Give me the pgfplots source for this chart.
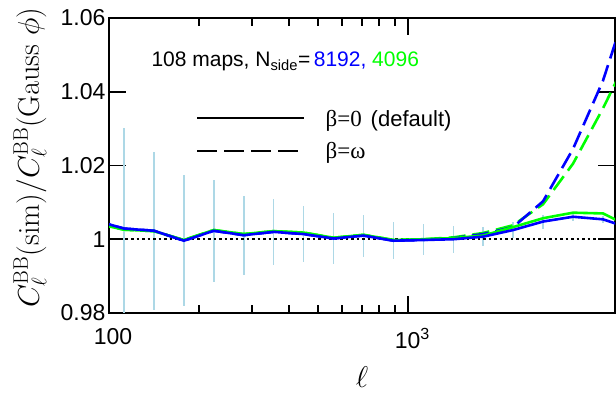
\RequirePackage{fix-cm}
\documentclass[border=0pt]{standalone}
\usepackage[no-math]{fontspec}
\usepackage{pgfplots}
\pgfplotsset{compat=1.18}
\usepackage{pgfplotstable}
\usetikzlibrary{calc}
\newfontfamily\arial{Liberation Sans}
\newfontfamily\tnr{Liberation Serif}
\definecolor{errblue}{RGB}{173,216,230}
\definecolor{pblue}{RGB}{0,0,255}
\definecolor{pgreen}{RGB}{0,255,0}

% Binned BB ratio: b0/g0 = beta=0 (Nside 8192 / 4096), bw/gw = beta=omega, e = 1-sigma scatter
\pgfplotstableread{
l      b0     g0     bw     gw     e
89.1   1.0052 1.0044 1.0052 1.0044 0
112.2  1.0029 1.0026 1.0029 1.0026 0.0272
141.3  1.0023 1.0022 1.0023 1.0022 0.0214
177.8  0.9996 0.9998 0.9996 0.9998 0.0177
223.9  1.0023 1.0025 1.0023 1.0025 0.0139
281.8  1.0011 1.0014 1.0011 1.0014 0.0107
354.8  1.0020 1.0022 1.0020 1.0022 0.0090
446.7  1.0014 1.0018 1.0014 1.0018 0.0076
562.3  1.0002 1.0004 1.0002 1.0004 0.0070
707.9  1.0010 1.0012 1.0010 1.0012 0.0057
891.3  0.9996 0.9998 0.9996 0.9998 0.0050
1122   0.9998 1.0000 0.9998 1.0000 0.0042
1413   1.0000 1.0003 1.0003 1.0005 0.0036
1778   1.0007 1.0010 1.0014 1.0017 0.0025
2239   1.0025 1.0033 1.0033 1.0038 0.0021
2818   1.0048 1.0057 1.0103 1.0095 0.0019
3548   1.0061 1.0072 1.0245 1.0205 0.0012
4467   1.0054 1.0070 1.0430 1.0355 0.0010
5623   1.0027 1.0030 1.0680 1.0520 0
}\spectra

\begin{document}
\begin{tikzpicture}
\begin{axis}[
  scale only axis, width=506pt, height=295pt,
  xmode=log, xmin=100, xmax=4900, ymin=0.98, ymax=1.06,
  xtick={100,1000}, xticklabels={100,10\textsuperscript{3}},
  ytick={0.98,1,1.02,1.04,1.06}, yticklabels={0.98,1,1.02,1.04,1.06},
  ytick pos=both, xtick pos=both,
  tick align=inside, major tick length=17pt, minor tick length=8pt,
  every tick/.style={black, line width=1.8pt},
  axis line style={line width=2.2pt},
  tick label style={font=\arial\fontsize{23}{23}\selectfont},
  xticklabel style={yshift=-12pt, xshift=4pt},
  xlabel={$\ell$},
  ylabel={$C_\ell^{\mathrm{BB}}(\mathrm{sim})/C_\ell^{\mathrm{BB}}(\mathrm{Gauss}\ \phi)$},
  label style={font=\fontsize{30}{30}\selectfont},
  x label style={at={(axis description cs:0.5,0)}, anchor=center, yshift=-64pt},
  y label style={at={(axis description cs:0,0.5)}, anchor=center, yshift=79pt, xshift=8pt},
]
% scatter of the simulations
\addplot[forget plot, draw=none, mark=none,
  error bars/.cd, y dir=both, y explicit, error mark=none,
  error bar style={draw=errblue, line width=1.6pt, solid}]
  table[x=l, y=b0, y error=e] {\spectra};
% reference level
\addplot[black, line width=2pt, dash pattern=on 2.6pt off 2.9pt] coordinates {(100,1) (4900,1)};
% beta = omega
\addplot[pgreen, line width=2.6pt, dash pattern=on 17pt off 7pt] table[x=l, y=gw] {\spectra};
\addplot[pblue, line width=2.6pt, dash pattern=on 17pt off 7pt] table[x=l, y=bw] {\spectra};
% beta = 0
\addplot[pgreen, line width=2.6pt] table[x=l, y=g0] {\spectra};
\addplot[pblue, line width=2.6pt] table[x=l, y=b0] {\spectra};

\node[anchor=base west, font=\arial\fontsize{21}{21}\selectfont] at (rel axis cs:0.0771,0.834)
  {108 maps, N\textsubscript{side}=\,{\color{pblue}8192,} {\color{pgreen}4096}};
\draw[line width=2.5pt] (rel axis cs:0.174,0.661) -- (rel axis cs:0.385,0.661);
\node[anchor=base west, font=\fontsize{23}{23}\selectfont] at (rel axis cs:0.421,0.6305)
  {{\tnr β=0}\hspace{9pt}{\arial\fontsize{22}{22}\selectfont (default)}};
\draw[line width=2.5pt, dash pattern=on 20pt off 7pt] (rel axis cs:0.174,0.549) -- (rel axis cs:0.385,0.549);
\node[anchor=base west, font=\tnr\fontsize{23}{23}\selectfont] at (rel axis cs:0.421,0.525) {β=ω};
\end{axis}
\pgfresetboundingbox
\path ($(current axis.south west)+(-109pt,-81pt)$) rectangle ($(current axis.north east)+(1pt,18pt)$);
\end{tikzpicture}
\end{document}
